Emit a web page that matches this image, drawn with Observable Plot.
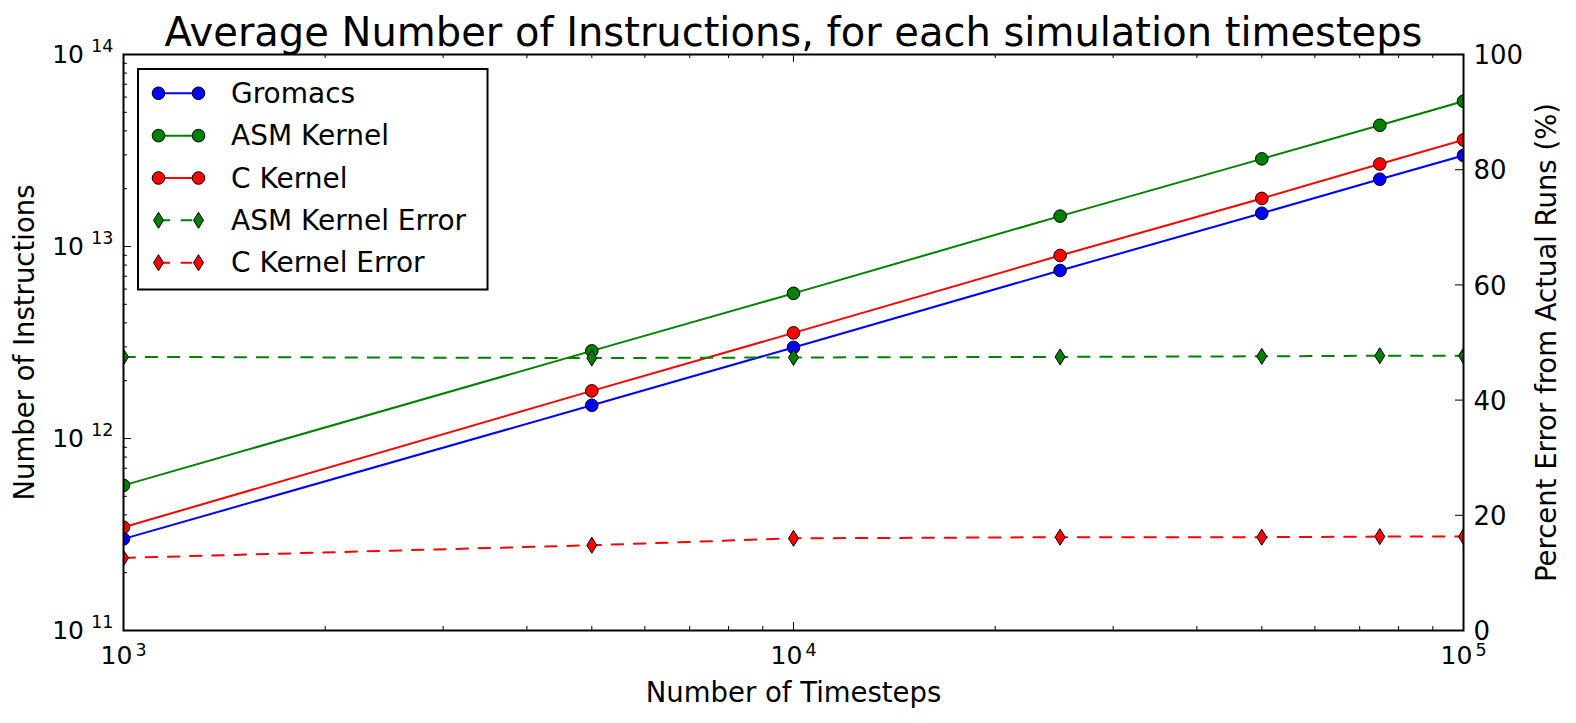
<!DOCTYPE html>
<html>
<head>
<meta charset="utf-8">
<script src="https://cdn.jsdelivr.net/npm/d3@7"></script>
<script src="https://cdn.jsdelivr.net/npm/@observablehq/plot@0.6"></script>
<style>
  html, body { margin: 0; padding: 0; background: white; }
  #chart { width: 1576px; height: 723px; }
  svg text { font-family: "DejaVu Sans", sans-serif; }
</style>
</head>
<body>
<div id="chart"></div>
<script>
// ---------------- data ----------------
const title = "Average Number of Instructions, for each simulation timesteps";
const xLabel = "Number of Timesteps";
const yLabel = "Number of Instructions";
const y2Label = "Percent Error from Actual Runs (%)";

const timesteps = [1000, 5000, 10000, 25000, 50000, 75000, 100000];
const gromacs   = [3.0e11, 1.49e12, 2.98e12, 7.5e12, 1.49e13, 2.24e13, 2.98e13];
const asmKernel = [5.7e11, 2.86e12, 5.7e12, 1.44e13, 2.86e13, 4.28e13, 5.71e13];
const cKernel   = [3.45e11, 1.77e12, 3.55e12, 8.98e12, 1.78e13, 2.69e13, 3.59e13];
const asmError  = [47.5, 47.3, 47.4, 47.5, 47.6, 47.7, 47.7];
const cError    = [12.6, 14.8, 16.0, 16.2, 16.2, 16.3, 16.3];

const seriesNames  = ["Gromacs", "ASM Kernel", "C Kernel", "ASM Kernel Error", "C Kernel Error"];
const seriesColors = ["#0000ff", "#008000", "#ff0000", "#008000", "#ff0000"];

const xMajor = [1e3, 1e4, 1e5];
const yMajor = [1e11, 1e12, 1e13, 1e14];
const pctTicks = [0, 20, 40, 60, 80, 100];
const pctDomain = [0, 100];
const yDomain = [1e11, 1e14];
const xDomain = [1e3, 1e5];

// minor ticks (2..9 in each decade)
const xMinor = [1e3, 1e4].flatMap(d => [2,3,4,5,6,7,8,9].map(k => k * d));
const yMinor = [1e11, 1e12, 1e13].flatMap(d => [2,3,4,5,6,7,8,9].map(k => k * d));

// ---------------- layout ----------------
const W = 1576, H = 723;
const mL = 123, mR = 113, mT = 54, mB = 93;
const plotW = W - mL - mR, plotH = H - mT - mB;
const DASH = "11.5,10.7";
const R = 6.3;

// secondary (percent) axis mapped onto the log y scale
const lo = Math.log10(yDomain[0]), hi = Math.log10(yDomain[1]);
const pct2y = p => Math.pow(10, lo + (hi - lo) * (p - pctDomain[0]) / (pctDomain[1] - pctDomain[0]));

const rows = (ys) => timesteps.map((t, i) => ({x: t, y: ys[i]}));
const mainSeries = [gromacs, asmKernel, cKernel].map((ys, i) => ({name: seriesNames[i], color: seriesColors[i], data: rows(ys)}));
const errSeries = [asmError, cError].map((ps, i) => ({name: seriesNames[i + 3], color: seriesColors[i + 3], data: rows(ps.map(pct2y))}));

// thin diamond symbol (matplotlib "d")
const DH = 8, DW = 5;
const thinDiamond = {
  draw(ctx, size) {
    const r = Math.sqrt(size / Math.PI) / R;
    const h = DH * r, w = DW * r;
    ctx.moveTo(0, -h); ctx.lineTo(w, 0); ctx.lineTo(0, h); ctx.lineTo(-w, 0); ctx.closePath();
  }
};

const marks = [];
// tick marks (inward)
marks.push(
  Plot.ruleX(xMajor, {x: d => d, insetTop: plotH - 8, stroke: "black", strokeWidth: 1}),
  Plot.ruleX(xMinor, {x: d => d, insetTop: plotH - 4, stroke: "black", strokeWidth: 1}),
  Plot.ruleX(xMajor, {x: d => d, insetBottom: plotH - 8, stroke: "black", strokeWidth: 1}),
  Plot.ruleX(xMinor, {x: d => d, insetBottom: plotH - 4, stroke: "black", strokeWidth: 1}),
  Plot.ruleY(yMajor, {y: d => d, insetRight: plotW - 8, stroke: "black", strokeWidth: 1}),
  Plot.ruleY(yMinor, {y: d => d, insetRight: plotW - 4, stroke: "black", strokeWidth: 1}),
  Plot.ruleY(pctTicks, {y: p => pct2y(p), insetLeft: plotW - 8, stroke: "black", strokeWidth: 1})
);
// main series
for (const s of mainSeries) {
  marks.push(Plot.line(s.data, {x: "x", y: "y", stroke: s.color, strokeWidth: 2, clip: "frame"}));
  marks.push(Plot.dot(s.data, {x: "x", y: "y", r: R, fill: s.color, stroke: "black", strokeWidth: 1, clip: "frame"}));
}
// error series (secondary axis)
for (const s of errSeries) {
  marks.push(Plot.line(s.data, {x: "x", y: "y", stroke: s.color, strokeWidth: 2, strokeDasharray: DASH, clip: "frame"}));
  marks.push(Plot.dot(s.data, {x: "x", y: "y", r: R, symbol: thinDiamond, fill: s.color, stroke: "black", strokeWidth: 1, clip: "frame"}));
}
// tick labels: x axis (10^n)
marks.push(
  Plot.text(xMajor, {x: d => d, frameAnchor: "bottom", text: () => "10", textAnchor: "start", lineAnchor: "bottom", dx: -23, dy: 33.3, fontSize: 25, fill: "black"}),
  Plot.text(xMajor, {x: d => d, frameAnchor: "bottom", text: d => String(Math.round(Math.log10(d))), textAnchor: "start", lineAnchor: "bottom", dx: 12, dy: 25, fontSize: 17.5, fill: "black"}),
  Plot.text(yMajor, {y: d => d, frameAnchor: "left", text: () => "10", textAnchor: "end", lineAnchor: "bottom", dx: -39.5, dy: 8.8, fontSize: 25, fill: "black"}),
  Plot.text(yMajor, {y: d => d, frameAnchor: "left", text: d => String(Math.round(Math.log10(d))), textAnchor: "end", lineAnchor: "bottom", dx: -10, dy: -2.8, fontSize: 17.5, fill: "black"}),
  Plot.text(pctTicks, {y: p => pct2y(p), frameAnchor: "right", text: p => String(p), textAnchor: "start", lineAnchor: "bottom", dx: 10, dy: 9.7, fontSize: 26, fill: "black"})
);
// titles
marks.push(
  Plot.text([title], {frameAnchor: "top", textAnchor: "middle", lineAnchor: "bottom", dy: -9, fontSize: 40, fill: "black"}),
  Plot.text([xLabel], {frameAnchor: "bottom", textAnchor: "middle", lineAnchor: "bottom", dy: 71, fontSize: 27.5, fill: "black"}),
  Plot.text([yLabel], {frameAnchor: "left", textAnchor: "middle", rotate: -90, lineAnchor: "bottom", dx: -90, fontSize: 27.5, fill: "black"}),
  Plot.text([y2Label], {frameAnchor: "right", textAnchor: "middle", rotate: -90, lineAnchor: "bottom", dx: 92, fontSize: 27.5, fill: "black"})
);
marks.push(Plot.frame({stroke: "black", strokeWidth: 2}));

const svg = Plot.plot({
  width: W, height: H,
  marginLeft: mL, marginRight: mR, marginTop: mT, marginBottom: mB,
  style: {fontFamily: "DejaVu Sans", background: "white", color: "black", overflow: "visible"},
  x: {type: "log", domain: xDomain, axis: null},
  y: {type: "log", domain: yDomain, axis: null},
  marks
});

// ---------------- legend ----------------
const leg = d3.select(svg).append("g").attr("transform", "translate(138,69)");
leg.append("rect").attr("x", 0).attr("y", 0).attr("width", 349.5).attr("height", 220.5)
  .attr("fill", "white").attr("stroke", "black").attr("stroke-width", 2);
seriesNames.forEach((name, i) => {
  const cy = 24.3 + i * 42.35;
  const isErr = i >= 3;
  const g = leg.append("g").attr("transform", `translate(0,${cy})`);
  g.append("line").attr("x1", 20.5).attr("x2", 60.5).attr("y1", 0).attr("y2", 0)
    .attr("stroke", seriesColors[i]).attr("stroke-width", 2)
    .attr("stroke-dasharray", isErr ? DASH : null);
  [20.5, 60.5].forEach(mx => {
    if (isErr) {
      g.append("path").attr("d", `M0,${-DH}L${DW},0L0,${DH}L${-DW},0Z`).attr("transform", `translate(${mx},0)`)
        .attr("fill", seriesColors[i]).attr("stroke", "black").attr("stroke-width", 1);
    } else {
      g.append("circle").attr("cx", mx).attr("cy", 0).attr("r", R)
        .attr("fill", seriesColors[i]).attr("stroke", "black").attr("stroke-width", 1);
    }
  });
  g.append("text").attr("x", 93).attr("y", 9.5).attr("font-size", 28).attr("fill", "black")
    .attr("text-anchor", "start").style("text-anchor", "start")
    .style("font-family", "DejaVu Sans").text(name);
});

document.getElementById("chart").appendChild(svg);
</script>
</body>
</html>
